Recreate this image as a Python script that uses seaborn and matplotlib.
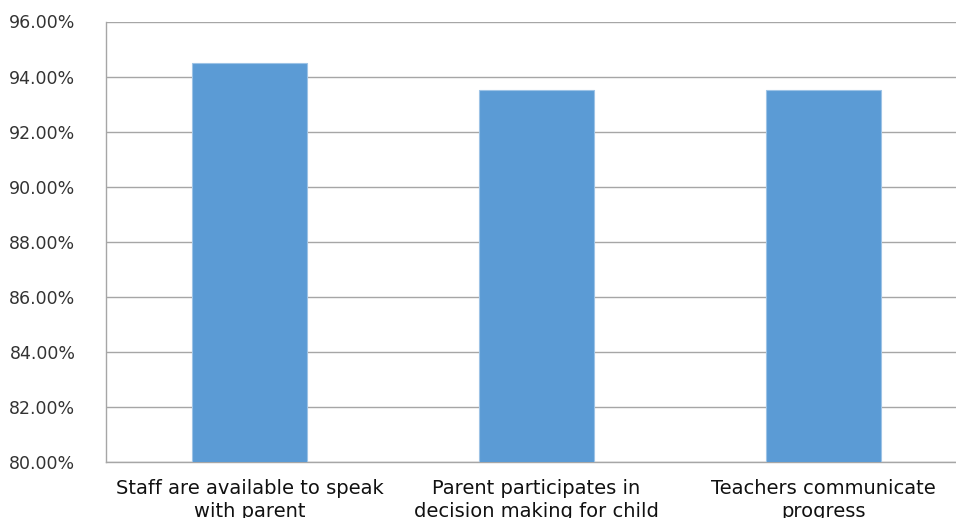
import numpy as np
import pandas as pd
import seaborn as sns
import matplotlib.pyplot as plt
from matplotlib.ticker import PercentFormatter

categories = ["Staff are available to speak\nwith parent",
              "Parent participates in\ndecision making for child",
              "Teachers communicate\nprogress"]
values = [94.48, 93.53, 93.53]

df = pd.DataFrame({"item": categories, "pct": values})

sns.set_style("white")
plt.rcParams['font.family'] = ['DejaVu Sans']

fig = plt.figure(figsize=(9.56, 5.18), dpi=100)
ax = fig.add_axes([106 / 956, 56 / 518, 861 / 956, 440.5 / 518])

sns.barplot(data=df, x="item", y="pct", color="#5B9BD5", width=0.4,
            edgecolor="#9DC3E6", linewidth=0.8, saturation=1, ax=ax, zorder=3)

ax.set_ylim(80, 96)
ax.set_yticks(np.arange(80, 96.1, 2))
ax.yaxis.set_major_formatter(PercentFormatter(decimals=2))
ax.grid(axis="y", color="#a6a6a6", linewidth=1, zorder=0)
ax.set_axisbelow(True)
ax.set_xlabel("")
ax.set_ylabel("")

for s in ["top", "right"]:
    ax.spines[s].set_visible(False)
for s in ["left", "bottom"]:
    ax.spines[s].set_color("#a6a6a6")
    ax.spines[s].set_linewidth(1)

ax.tick_params(axis="y", length=8, color="#a6a6a6", pad=14, labelsize=12.5, labelcolor="#333333")
ax.tick_params(axis="x", length=0, pad=12, labelcolor="#111111")
for lab in ax.get_xticklabels():
    lab.set_fontfamily(['Liberation Sans Narrow', 'DejaVu Sans'])
    lab.set_fontsize(14)
    lab.set_linespacing(1.3)

fig.savefig("out.png", dpi=100)
